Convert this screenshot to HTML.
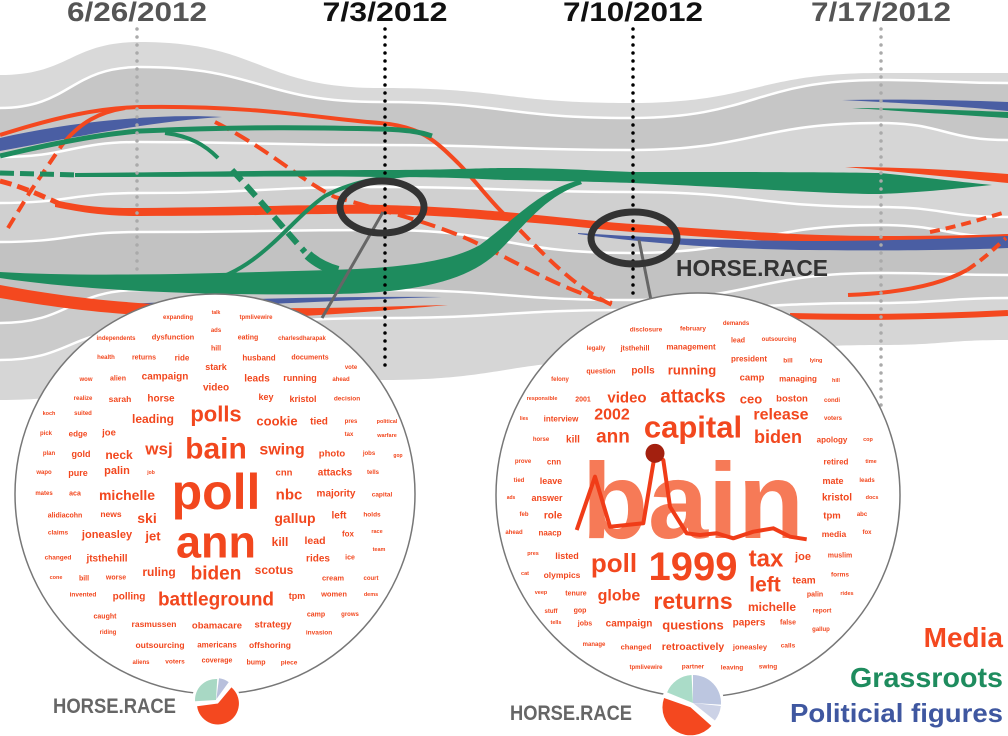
<!DOCTYPE html>
<html><head><meta charset="utf-8"><style>
html,body{margin:0;padding:0;background:#fff;}
svg{display:block;font-family:"Liberation Sans",sans-serif;font-weight:bold;}
</style></head><body>
<svg id="chart" width="1008" height="736" viewBox="0 0 1008 736" xmlns="http://www.w3.org/2000/svg">
<g id="bands"></g>
<g id="streams">
  <path d="M0,138 C60,124 150,113 222,117 C150,121 60,140 0,151 Z" fill="#4a5ea3"/>
  <path d="M8,228 L30,192 L62,145" fill="none" stroke="#f4481f" stroke-width="4" stroke-dasharray="12 7"/>
  <path d="M62,145 C80,122 100,112 125,108" fill="none" stroke="#f4481f" stroke-width="4"/>
  <path d="M0,135 C60,116 100,108 140,107 C260,105 330,120 380,123 C420,126 435,140 460,165 C478,184 492,203 505,215" fill="none" stroke="#f4481f" stroke-width="4"/>
  <path d="M505,215 C540,250 570,285 612,305" fill="none" stroke="#f4481f" stroke-width="4" stroke-dasharray="14 7"/>
  <path d="M215,122 C270,150 300,180 335,197 C380,210 430,222 470,240 C510,258 560,290 612,303" fill="none" stroke="#f4481f" stroke-width="4" stroke-dasharray="16 7"/>
  <path d="M0,156 C50,144 100,134 140,131 C260,126 330,128 380,129 C410,130 420,132 432,136" fill="none" stroke="#1e8c5e" stroke-width="5"/>
  <path d="M165,133 C190,136 205,145 218,158" fill="none" stroke="#1e8c5e" stroke-width="4"/>
  <path d="M0,181 C20,186 40,195 58,203" fill="none" stroke="#f4481f" stroke-width="5" stroke-dasharray="12 6"/>
  <path d="M55,200 C90,208 110,208 140,208 C250,207 330,204 385,205 C450,207 480,210 505,212 C560,217 600,222 633,224 C720,230 800,236 880,236 C940,236 980,235 1008,234 L1008,242 C980,243 940,244 880,244 C800,244 720,238 633,232 C600,230 560,224 505,221 C480,219 450,216 385,214 C330,213 250,216 140,216 C110,216 90,214 55,207 Z" fill="#f4481f"/>
  <path d="M0,173 L78,175" fill="none" stroke="#1e8c5e" stroke-width="5" stroke-dasharray="14 6"/>
  <path d="M75,173 C200,172 300,170 380,170 C450,170 480,168 505,168 C560,168 600,171 633,172 C750,172 830,172 880,173 C930,178 960,182 992,185 C960,188 930,192 880,194 C830,194 750,188 633,183 C600,182 560,181 505,180 C480,179 450,177 380,177 C300,176 200,177 75,177 Z" fill="#1e8c5e"/>
  <path d="M205,282 C260,270 290,220 325,196 C355,180 390,175 432,174" fill="none" stroke="#1e8c5e" stroke-width="4"/>
  <path d="M232,170 C260,200 285,230 305,252" fill="none" stroke="#1e8c5e" stroke-width="6" stroke-dasharray="14 7"/>
  <path d="M308,255 Q320,266 338,271" fill="none" stroke="#1e8c5e" stroke-width="10"/>
  <path d="M0,272 C100,278 250,272 330,270 C400,268 450,262 480,245 C520,215 540,190 580,180 L582,184 C545,196 525,225 500,250 C470,280 420,293 330,294 C200,296 80,290 0,278 Z" fill="#1e8c5e"/>
  <path d="M105,305 C200,300 320,296 442,297 C320,300 200,310 105,307 Z" fill="#4a5ea3"/>
  <path d="M0,285 C60,296 120,305 250,308 C330,309 400,306 448,305 C400,309 330,316 250,318 C120,318 60,308 0,298 Z" fill="#f4481f"/>
  <path d="M578,233 C640,237 700,240 800,241 C900,241 960,238 1008,236 L1008,248 C960,250 900,251 800,250 C700,248 640,242 578,234 Z" fill="#4a5ea3"/>
  <path d="M845,167 C900,167 960,170 1008,174 L1008,183 C960,178 900,172 845,167 Z" fill="#f4481f"/>
  <path d="M842,100 C900,99 960,100 1008,102 L1008,111 C960,106 900,103 842,100 Z" fill="#4a5ea3"/>
  <path d="M852,108 C900,108 960,110 1008,112 L1008,118 C960,115 900,111 852,108 Z" fill="#1e8c5e"/>
  <path d="M848,295 C900,293 940,285 967,270" fill="none" stroke="#f4481f" stroke-width="4"/>
  <path d="M967,270 C985,258 995,248 1006,238" fill="none" stroke="#f4481f" stroke-width="4" stroke-dasharray="10 6"/>
  <path d="M930,232 C960,226 985,218 1006,212" fill="none" stroke="#f4481f" stroke-width="4" stroke-dasharray="10 6"/>
  <path d="M790,316 C870,318 950,316 1008,313" fill="none" stroke="#f4481f" stroke-width="6"/>
</g>
<g id="dates"></g>
<g id="focus">
  <line x1="383" y1="212" x2="322" y2="318" stroke="#666" stroke-width="3"/>
  <line x1="639" y1="240" x2="651" y2="300" stroke="#666" stroke-width="3"/>
  <ellipse cx="382" cy="207" rx="42" ry="26" fill="none" stroke="#333" stroke-width="7"/>
  <ellipse cx="634" cy="238" rx="43" ry="26" fill="none" stroke="#333" stroke-width="7"/>
  <text x="676" y="276" font-size="23" fill="#333" textLength="152" lengthAdjust="spacingAndGlyphs">HORSE.RACE</text>
</g>
<circle cx="215" cy="494" r="200" fill="#fff" stroke="#777" stroke-width="1.5"/>
<circle cx="698" cy="495" r="202" fill="#fff" stroke="#777" stroke-width="1.5"/>
<text x="693" y="538" font-size="108" fill="#f67a57" text-anchor="middle">bain</text>
<g id="words"></g>
<g id="overlay"></g>
<g id="pies"></g>
<text x="53" y="713" font-size="21" fill="#666" textLength="123" lengthAdjust="spacingAndGlyphs">HORSE.RACE</text>
<text x="510" y="720" font-size="21" fill="#666" textLength="122" lengthAdjust="spacingAndGlyphs">HORSE.RACE</text>
<g>
  <text x="1003" y="647" font-size="28" fill="#f4481f" text-anchor="end">Media</text>
  <text x="1003" y="687" font-size="28" fill="#1e8c5e" text-anchor="end" textLength="153" lengthAdjust="spacingAndGlyphs">Grassroots</text>
  <text x="1003" y="722" font-size="26" fill="#3f57a0" text-anchor="end" textLength="213" lengthAdjust="spacingAndGlyphs">Politicial figures</text>
</g>
</svg>
<script>
const NS="http://www.w3.org/2000/svg";
const bandXs=[0,140,380,630,880,1008];
const bandBounds=[
 [75,42,88,103,73,73],
 [108,67,102,118,80,83],
 [157,142,145,150,123,140],
 [203,193,187,192,207,217],
 [242,232,230,253,225,237],
 [323,290,290,300,273,275],
 [360,330,318,310,303,298],
 [400,390,380,360,345,340]
];
const bandColors=["#d9d9d9","#c6c6c6","#d6d6d6","#d0d0d0","#c2c2c2","#cbcbcb","#d6d6d6"];
const dateLabels=["6/26/2012","7/3/2012","7/10/2012","7/17/2012"];
const dateXs=[137,385,633,881];
const dateEnds=[275,373,300,407];
const dateColors=["#555","#111","#111","#555"];
const wordsText=["expanding","talk","tpmlivewire","independents","dysfunction","ads","eating","charlesdharapak","health","returns","ride","hill","husband","documents","stark","vote","wow","alien","campaign","leads","running","ahead","video","realize","sarah","horse","key","kristol","decision","polls","koch","suited","leading","cookie","tied","pres","political","pick","edge","joe","tax","warfare","bain","wsj","swing","neck","plan","gold","photo","jobs","gop","wapo","pure","palin","job","cnn","attacks","tells","poll","michelle","mates","aca","nbc","majority","capital","alidiacohn","news","ski","gallup","left","holds","ann","claims","joneasley","jet","kill","lead","fox","race","team","changed","jtsthehill","rides","ice","ruling","biden","scotus","cone","bill","worse","cream","court","invented","polling","battleground","tpm","women","dems","caught","rasmussen","obamacare","strategy","camp","grows","riding","invasion","outsourcing","americans","offshoring","aliens","voters","coverage","bump","piece",
"disclosure","february","demands","lead","outsourcing","legally","jtsthehill","management","president","bill","lying","question","polls","running","camp","managing","hill","felony","responsible","2001","video","attacks","ceo","boston","condi","lies","interview","2002","release","voters","capital","ann","biden","horse","kill","apology","cop","prove","cnn","retired","time","tied","leave","mate","leads","ads","answer","kristol","docs","feb","role","tpm","abc","ahead","naacp","media","fox","pres","listed","poll","1999","tax","joe","muslim","cat","olympics","left","team","forms","veep","tenure","globe","returns","michelle","palin","rides","stuff","gop","report","tells","jobs","campaign","questions","papers","false","gallup","manage","changed","retroactively","joneasley","calls","tpmlivewire","partner","leaving","swing"];
const wordsX=[178,216,256,116,173,216,248,302,106,144,182,216,259,310,216,351,86,118,165,257,300,341,216,83,120,161,266,303,347,216,49,83,153,277,319,351,387,46,78,109,349,387,216,159,282,119,49,81,332,369,398,44,78,117,151,284,335,373,216,127,44,75,289,336,382,65,111,147,295,339,372,216,58,107,153,280,315,348,377,379,58,107,318,350,159,216,274,56,84,116,333,371,83,129,216,297,334,371,105,154,217,273,316,350,108,319,160,217,270,141,175,217,256,289,
646,693,736,738,779,596,635,691,749,788,816,601,643,692,752,798,836,560,542,583,627,693,751,792,832,524,561,612,781,833,693,613,778,541,573,832,868,523,554,836,871,519,551,833,867,511,547,837,872,524,553,832,862,514,550,834,867,533,567,614,693,766,803,840,525,562,765,804,840,541,576,619,693,772,815,847,551,580,822,556,585,629,693,749,788,821,594,636,693,750,788,646,693,732,768];
const wordsY=[318,313,318,339,337,331,338,339,358,358,358,349,358,358,367,368,380,379,377,379,378,380,388,399,399,399,397,399,399,414,414,414,419,421,422,422,422,434,434,433,435,436,449,449,450,455,454,454,454,454,456,473,473,471,473,473,473,473,492,495,494,494,495,494,495,516,514,518,518,516,515,542,533,535,536,542,541,534,532,550,558,559,559,558,572,574,570,578,579,578,578,579,595,597,600,596,594,595,617,624,626,625,615,615,633,633,645,645,645,663,662,661,663,663,
330,329,324,341,340,349,349,347,359,361,361,372,371,370,378,379,381,380,399,400,398,397,399,399,401,419,419,415,415,419,427,437,437,440,440,440,440,462,462,462,462,481,481,481,481,498,498,498,498,515,516,516,515,533,533,534,533,554,556,563,567,559,557,556,574,575,585,581,575,593,594,596,601,607,595,594,612,611,611,623,624,624,625,623,623,630,645,647,647,647,646,668,667,668,667];
const wordsSize=[6,5,6,6,7.5,6,7,6,6,7,8,7,8,7,9,6,6,7,10,10,9,6,10,6,8.5,10,9,9,6.5,22,5.5,6,12,13,10,6,5.5,6,8,9.5,6,5.5,30,17,16,12,6,9,9.5,6,5,6,9,11,5,9.5,10,6,50,14,6,7,15,10,6.5,7,8.5,14,14,10,6.5,45,6.5,11,13,12,10.5,8,5.5,5.5,6.5,10,10,7,12,19,12,5.5,7,7,7.5,6,6.5,10,19,9,7.5,5.5,7,8.5,9.5,9.5,7,6,6,6.5,8.5,8,8.5,6,6.5,7,7,6.5,
6.5,6.5,6,7,6,6,7,8,8,6.5,5.5,7,10,13,9.5,8,5.5,6,5.5,7,15,19,13,9.5,6,5,8,16,16,6,31,19,18,6,10,8,5.5,6,8,8,5.5,6,9,9,6,5,9,10,5.5,6,10,9.5,6,6,8,8.5,6,5.5,9,26,40,24,11,7,5.5,8.5,21,10,6.5,5.5,7,16,23,12,7,5.5,6,7,6.5,5.5,7,10,13,10,7,6,6,7.5,10.5,7.5,6.5,6,6.5,6.5,6.5];
const trendVals=[230,285,330,430,465,490,510,560,600,650,700,760,820,870,920];
const trendYs=[690,530,680,670,460,480,620,700,705,700,715,695,685,710,718];
const pieLeftVals=[62,27,8];
const pieRightVals=[26,9,44,18];

function smooth(xs,ys){let d="M"+xs[0]+","+ys[0];for(let i=1;i<xs.length;i++){const m=(xs[i-1]+xs[i])/2;d+=" C"+m+","+ys[i-1]+" "+m+","+ys[i]+" "+xs[i]+","+ys[i];}return d;}
function smoothRev(xs,ys){const rx=xs.slice().reverse(),ry=ys.slice().reverse();let d="";for(let i=1;i<rx.length;i++){const m=(rx[i-1]+rx[i])/2;d+=" C"+m+","+ry[i-1]+" "+m+","+ry[i]+" "+rx[i]+","+ry[i];}return d;}
const bands=document.getElementById("bands");
for(let i=0;i<bandBounds.length-1;i++){
  const p=document.createElementNS(NS,"path");
  
  
  p.setAttribute("d",smooth(bandXs,bandBounds[i])+" L1008,"+bandBounds[i+1][5]+smoothRev(bandXs,bandBounds[i+1])+" Z");
  p.setAttribute("fill",bandColors[i]);
  bands.appendChild(p);
}
for(let i=1;i<bandBounds.length-1;i++){
  const p=document.createElementNS(NS,"path");
  
  
  p.setAttribute("d",smooth(bandXs,bandBounds[i]));
  p.setAttribute("fill","none");p.setAttribute("stroke","#fff");p.setAttribute("stroke-width","2.5");
  bands.appendChild(p);
}
const dates=document.getElementById("dates");
for(let i=0;i<dateLabels.length;i++){
  const l=document.createElementNS(NS,"line");
  
  
  l.setAttribute("x1",dateXs[i]);l.setAttribute("x2",dateXs[i]);l.setAttribute("y1",29);l.setAttribute("y2",dateEnds[i]);
  l.setAttribute("stroke",i==1||i==2?"#000":"#aaa");l.setAttribute("stroke-width","3.5");
  l.setAttribute("stroke-linecap","round");l.setAttribute("stroke-dasharray","0 8");
  dates.appendChild(l);
  const t=document.createElementNS(NS,"text");
  
  
  t.setAttribute("x",dateXs[i]);t.setAttribute("y",21);t.setAttribute("text-anchor","middle");
  t.setAttribute("font-size","27");t.setAttribute("fill",dateColors[i]);
  t.setAttribute("textLength",i==1?125:140);t.setAttribute("lengthAdjust","spacingAndGlyphs");
  t.textContent=dateLabels[i];dates.appendChild(t);
}
const words=document.getElementById("words");
for(let i=0;i<wordsText.length;i++){
  const t=document.createElementNS(NS,"text");
  
  
  t.setAttribute("x",wordsX[i]);t.setAttribute("y",wordsY[i]);
  t.setAttribute("text-anchor","middle");t.setAttribute("dominant-baseline","central");
  t.setAttribute("font-size",wordsSize[i]);t.setAttribute("fill","#f2471e");
  t.textContent=wordsText[i];words.appendChild(t);
}
const ov=document.getElementById("overlay");
let pd="";for(let i=0;i<trendVals.length;i++){pd+=(i?"L":"M")+(500+trendVals[i]/3).toFixed(1)+","+(300+trendYs[i]/3).toFixed(1)+" ";}
const tl=document.createElementNS(NS,"path");


tl.setAttribute("d",pd);tl.setAttribute("fill","none");tl.setAttribute("stroke","#f03c18");tl.setAttribute("stroke-width","4");tl.setAttribute("stroke-linejoin","round");
ov.appendChild(tl);
const dot=document.createElementNS(NS,"circle");


dot.setAttribute("cx",500+465/3);dot.setAttribute("cy",300+460/3);dot.setAttribute("r",9.5);dot.setAttribute("fill","#a3200f");
ov.appendChild(dot);
const pies=document.getElementById("pies");
function pie(cx,cy,r,vals,startDeg,colors,explode,gap){
  const tot=vals.reduce((a,b)=>a+b,0);let a=startDeg;
  const bg=document.createElementNS(NS,"circle");
  
  
  bg.setAttribute("cx",cx);bg.setAttribute("cy",cy);bg.setAttribute("r",r+3);bg.setAttribute("fill","#fff");pies.appendChild(bg);
  vals.forEach((v,i)=>{
    const sweep=v/tot*(360-gap*vals.length);const a0=a,a1=a+sweep;a=a1+gap;
    const mid=(a0+a1)/2*Math.PI/180;const ex=explode[i];
    const ox=cx+ex*Math.sin(mid),oy=cy-ex*Math.cos(mid);
    const p0=[ox+r*Math.sin(a0*Math.PI/180),oy-r*Math.cos(a0*Math.PI/180)];
    const p1=[ox+r*Math.sin(a1*Math.PI/180),oy-r*Math.cos(a1*Math.PI/180)];
    const s=document.createElementNS(NS,"path");
    
    
    s.setAttribute("d","M"+ox+","+oy+" L"+p0[0]+","+p0[1]+" A"+r+","+r+" 0 "+(sweep>180?1:0)+" 1 "+p1[0]+","+p1[1]+" Z");
    s.setAttribute("fill",colors[i]);pies.appendChild(s);
  });
}
pie(216,700,21,pieLeftVals,40,["#f4481f","#a8d8c4","#b8c0dc"],[4,0,1],4);
pie(693,703,28,pieRightVals,0,["#bcc6e0","#ccd2e6","#f4481f","#aadcc8"],[0,0,5,0],3);
</script>
</body></html>
